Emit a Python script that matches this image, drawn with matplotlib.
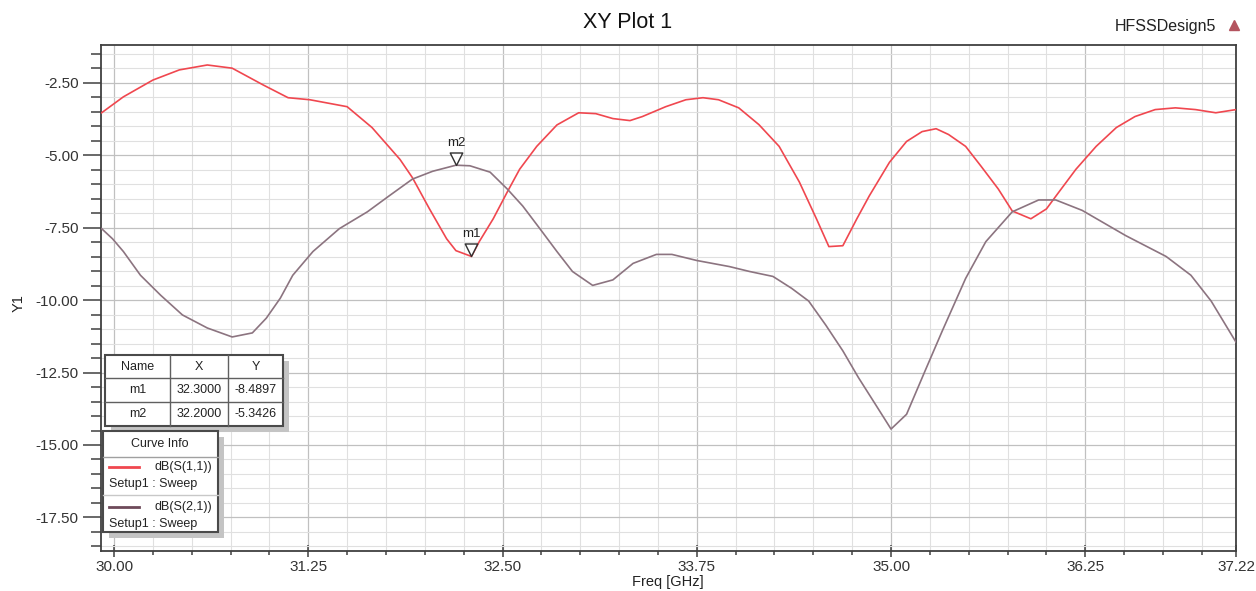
import matplotlib.pyplot as plt
from matplotlib.patches import Rectangle
from matplotlib.lines import Line2D
from matplotlib.path import Path
from matplotlib.ticker import MultipleLocator, FixedLocator
from matplotlib.transforms import Affine2D

plt.rcParams['font.family'] = ['Liberation Sans', 'DejaVu Sans']

# dB(S(1,1))
freq_s11 = [29.92, 30.06, 30.25, 30.42, 30.60, 30.76, 30.96, 31.12, 31.26, 31.50,
            31.66, 31.84, 31.92, 32.03, 32.14, 32.20, 32.30, 32.35, 32.44, 32.53,
            32.61, 32.72, 32.85, 32.99, 33.10, 33.21, 33.32, 33.40, 33.55, 33.68,
            33.79, 33.89, 34.02, 34.15, 34.28, 34.41, 34.52, 34.60, 34.69, 34.78,
            34.86, 34.99, 35.10, 35.20, 35.29, 35.37, 35.48, 35.58, 35.69, 35.78,
            35.90, 36.00, 36.08, 36.19, 36.32, 36.45, 36.57, 36.70, 36.83, 36.96,
            37.09, 37.22]
db_s11 = [-3.53, -2.98, -2.40, -2.05, -1.88, -1.99, -2.57, -3.01, -3.08, -3.32,
          -4.04, -5.14, -5.77, -6.85, -7.88, -8.29, -8.49, -7.98, -7.19, -6.27,
          -5.48, -4.69, -3.95, -3.53, -3.56, -3.73, -3.80, -3.66, -3.32, -3.08,
          -3.01, -3.08, -3.36, -3.94, -4.69, -5.92, -7.19, -8.15, -8.12, -7.19,
          -6.40, -5.24, -4.52, -4.18, -4.08, -4.28, -4.69, -5.38, -6.16, -6.92,
          -7.19, -6.85, -6.27, -5.48, -4.69, -4.04, -3.66, -3.42, -3.36, -3.42,
          -3.53, -3.42]

# dB(S(2,1))
freq_s21 = [29.92, 29.99, 30.06, 30.17, 30.30, 30.44, 30.60, 30.76, 30.89, 30.98,
            31.07, 31.15, 31.28, 31.45, 31.63, 31.77, 31.92, 32.05, 32.20, 32.29,
            32.42, 32.53, 32.63, 32.74, 32.85, 32.95, 33.08, 33.21, 33.34, 33.49,
            33.59, 33.75, 33.96, 34.09, 34.24, 34.36, 34.47, 34.58, 34.69, 34.79,
            34.90, 35.00, 35.10, 35.22, 35.33, 35.48, 35.61, 35.78, 35.95, 36.06,
            36.23, 36.51, 36.77, 36.93, 37.06, 37.22]
db_s21 = [-7.53, -7.88, -8.32, -9.14, -9.83, -10.51, -10.96, -11.27, -11.13, -10.62,
          -9.93, -9.14, -8.32, -7.53, -6.95, -6.40, -5.82, -5.55, -5.34, -5.36,
          -5.58, -6.16, -6.75, -7.53, -8.32, -9.01, -9.49, -9.30, -8.73, -8.42,
          -8.42, -8.63, -8.84, -9.01, -9.18, -9.59, -10.03, -10.86, -11.75, -12.67,
          -13.60, -14.45, -13.94, -12.43, -11.06, -9.25, -7.98, -6.95, -6.54, -6.54,
          -6.90, -7.77, -8.49, -9.14, -10.03, -11.45]

marker_names = ['m1', 'm2']
marker_freq = [32.3, 32.2]
marker_db = [-8.4897, -5.3426]

x_ticks = [30.00, 31.25, 32.50, 33.75, 35.00, 36.25, 37.22]
y_ticks = [-2.5, -5.0, -7.5, -10.0, -12.5, -15.0, -17.5]

W, H = 1256, 591
fig = plt.figure(figsize=(W / 100, H / 100), dpi=100)
fig.patch.set_facecolor('white')
ax = fig.add_axes([101 / W, 1 - 551 / H, (1236 - 101) / W, (551 - 45) / H])

# pixel coords (origin top-left) -> figure
tpx = Affine2D().scale(1 / W, -1 / H).translate(0, 1) + fig.transFigure

red = '#f0474f'
grey = '#8c7480'
ax.plot(freq_s11, db_s11, color=red, lw=1.2, zorder=3)
ax.plot(freq_s21, db_s21, color=grey, lw=1.2, zorder=3)

# markers: open triangle with tip on the curve
tri = Path([(-0.5, 1.0), (0.5, 1.0), (0.0, 0.0), (-0.5, 1.0)],
           [Path.MOVETO, Path.LINETO, Path.LINETO, Path.CLOSEPOLY])
ax.plot(marker_freq, marker_db, ls='none', marker=tri, markersize=18,
        mfc='white', mec='#303030', mew=1.0, zorder=5)
for name, mx, my in zip(marker_names, marker_freq, marker_db):
    ax.annotate(name, (mx, my), xytext=(0, 22), textcoords='offset pixels',
                ha='center', va='center', fontsize=9.5, color='#202020', zorder=6)

ax.set_xlim(29.916, 37.22)
ax.set_ylim(-18.66, -1.19)

ax.xaxis.set_major_locator(FixedLocator(x_ticks))
ax.set_xticklabels(['%.2f' % v for v in x_ticks])
ax.xaxis.set_minor_locator(MultipleLocator(0.25))
ax.yaxis.set_major_locator(FixedLocator(y_ticks))
ax.set_yticklabels(['%.2f' % v for v in y_ticks])
ax.yaxis.set_minor_locator(MultipleLocator(0.5))

ax.grid(which='minor', color='#e0e0e0', lw=0.8, zorder=0)
ax.grid(which='major', color='#c0c0c0', lw=0.9, zorder=0)
ax.set_axisbelow(True)

ax.tick_params(axis='y', which='major', direction='out', length=13, width=1.1,
               color='#404040', labelsize=11, labelcolor='#333333', pad=3)
ax.tick_params(axis='y', which='minor', direction='out', length=7, width=1.1,
               color='#404040')
ax.tick_params(axis='x', which='major', direction='inout', length=9, width=1.1,
               color='#404040', labelsize=11, labelcolor='#333333', pad=2)
ax.tick_params(axis='x', which='minor', direction='out', length=3, width=1.1,
               color='#404040')
for s in ax.spines.values():
    s.set_color('#404040')
    s.set_linewidth(1.3)

fig.text(628 / W, 1 - 23 / H, 'XY Plot 1', ha='center', va='center',
         fontsize=15.5, color='#111111')
fig.text(1216 / W, 1 - 26 / H, 'HFSSDesign5', ha='right', va='center',
         fontsize=11.5, color='#222222')
fig.add_artist(Line2D([1234], [25], transform=tpx, marker='^', markersize=7,
                      color='#b4545f', ls='none'))
fig.text(668 / W, 1 - 582 / H, 'Freq [GHz]', ha='center', va='center',
         fontsize=10.5, color='#222222')
fig.text(19 / W, 1 - 303 / H, 'Y1', ha='center', va='center', rotation=90,
         fontsize=10.5, color='#222222')


def box(x0, y0, x1, y1, lw=1.5):
    fig.add_artist(Rectangle((x0 + 6, y0 + 6), x1 - x0, y1 - y0, transform=tpx,
                             facecolor='#c4c4c4', edgecolor='none', zorder=4))
    fig.add_artist(Rectangle((x0, y0), x1 - x0, y1 - y0, transform=tpx,
                             facecolor='white', edgecolor='#4a4a4a', lw=lw, zorder=5))


def hline(x0, x1, y, color='#606060', lw=1.0):
    fig.add_artist(Line2D([x0, x1], [y, y], transform=tpx, color=color, lw=lw, zorder=6))


def ptext(x, y, s, ha='center', size=9):
    fig.text(x / W, 1 - y / H, s, ha=ha, va='center', fontsize=size,
             color='#222222', zorder=7)


# marker table
box(105, 355, 283, 426)
for y in (378, 402):
    hline(105, 283, y)
for x in (170, 228):
    fig.add_artist(Line2D([x, x], [355, 426], transform=tpx, color='#606060',
                          lw=1.0, zorder=6))
ptext(137.5, 367, 'Name')
ptext(199, 367, 'X')
ptext(255.5, 367, 'Y')
for i, (name, mx, my) in enumerate(zip(marker_names, marker_freq, marker_db)):
    yc = 390 + 24 * i
    ptext(137.5, yc, name)
    ptext(199, yc, '%.4f' % mx)
    ptext(255.5, yc, '%.4f' % my)

# curve info
box(103, 431, 218, 532)
ptext(160, 444, 'Curve Info')
hline(103, 218, 457, color='#a0a0a0')
hline(103, 218, 495, color='#c8c8c8')
entries = [('dB(S(1,1))', red, 467), ('dB(S(2,1))', '#6e4a5a', 507)]
for label, col, yc in entries:
    hline(109, 139, yc, color=col, lw=2.0)
    ptext(212, yc, label, ha='right')
    ptext(109, yc + 17, 'Setup1 : Sweep', ha='left')

fig.savefig('out.png', dpi=100)
